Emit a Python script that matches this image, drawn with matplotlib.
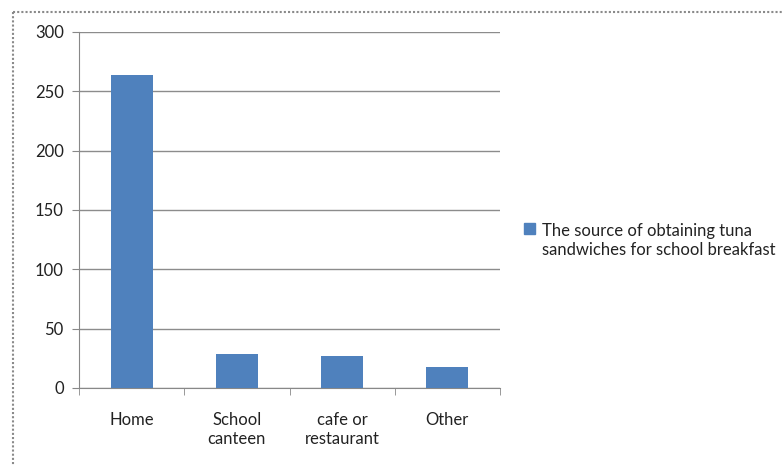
import matplotlib
matplotlib.use("Agg")
import matplotlib.pyplot as plt
from matplotlib.patches import Patch, Rectangle
from matplotlib.lines import Line2D
from matplotlib.legend_handler import HandlerPatch
import numpy as np

categories = ["Home", "School\ncanteen", "cafe or\nrestaurant", "Other"]
values = [264, 29, 27, 18]
series_name = "The source of obtaining tuna\nsandwiches for school breakfast"
yticks = [0, 50, 100, 150, 200, 250, 300]

W, H = 783, 466
fig = plt.figure(figsize=(W/100, H/100), dpi=100)
plt.rcParams['font.family'] = ['Lato', 'DejaVu Sans']

# outer dotted border (top and left only visible)
bx, by = 12.5/W, 1 - 11.5/H
fig.lines.append(Line2D([bx, 1.01], [by, by], transform=fig.transFigure,
                        color='#8a8a8a', linestyle=(0, (1, 1)), linewidth=1.5))
fig.lines.append(Line2D([bx, bx], [by, -0.01], transform=fig.transFigure,
                        color='#8a8a8a', linestyle=(0, (1, 1)), linewidth=1.5))

ax = fig.add_axes([79/W, 1-388/H, (500-79)/W, (388-32)/H])
x = np.arange(len(categories))
ax.bar(x, values, width=0.4, color='#4F81BD', zorder=3)
ax.set_xlim(-0.5, len(categories)-0.5)
ax.set_ylim(0, 300)
ax.set_yticks(yticks)
ax.set_yticklabels([str(t) for t in yticks], fontsize=12, color='#222222')
ax.set_xticks(x)
ax.set_xticklabels(categories, fontsize=12, color='#222222', linespacing=1.25)
ax.set_xticks(np.arange(len(categories)+1)-0.5, minor=True)
ax.tick_params(axis='x', which='major', length=0, pad=17)
ax.tick_params(axis='x', which='minor', length=5, color='#888888', direction='out')
ax.tick_params(axis='y', length=5, color='#888888', pad=6)
ax.grid(axis='y', color='#8c8c8c', linewidth=1, zorder=0)
for s in ['top', 'right']:
    ax.spines[s].set_visible(False)
for s in ['left', 'bottom']:
    ax.spines[s].set_color('#888888')


def top_square(legend, orig_handle, xdescent, ydescent, width, height, fontsize):
    return Rectangle((-xdescent, -ydescent + 9.4), width, height)


leg = fig.legend(handles=[Patch(color='#4F81BD', label=series_name)],
                 loc='upper left', bbox_to_anchor=(524/W, 1-223/H), frameon=False,
                 fontsize=12, handlelength=0.65, handleheight=0.65, handletextpad=0.4,
                 borderaxespad=0, borderpad=0, labelspacing=0.3,
                 handler_map={Patch: HandlerPatch(patch_func=top_square)})
for t in leg.get_texts():
    t.set_color('#222222')
    t.set_linespacing(1.25)

fig.savefig("out.png", dpi=100)
